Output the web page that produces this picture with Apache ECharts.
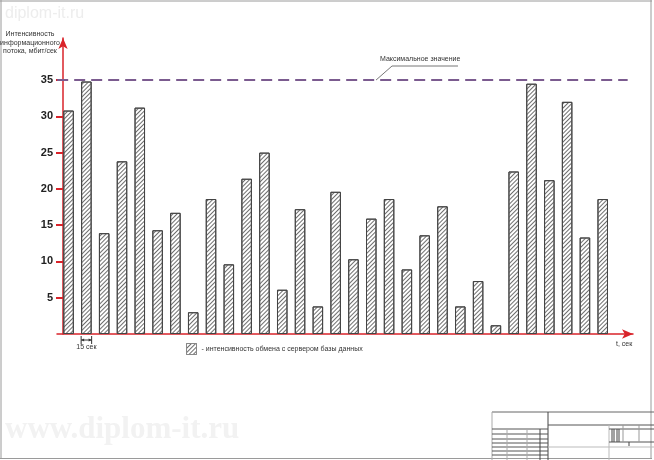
<!DOCTYPE html>
<html><head><meta charset="utf-8">
<script src="https://cdn.jsdelivr.net/npm/echarts@6/dist/echarts.min.js"></script>
<style>html,body{margin:0;padding:0;background:#fff}#c{width:654px;height:460px}</style>
</head><body><div id="c"></div>
<script>
const intervals = [0,1,2,3,4,5,6,7,8,9,10,11,12,13,14,15,16,17,18,19,20,21,22,23,24,25,26,27,28,29,30];
const intensity = [30.8,34.8,13.9,23.8,31.2,14.3,16.7,3.0,18.6,9.6,21.4,25.0,6.1,17.2,3.8,19.6,10.3,15.9,18.6,8.9,13.6,17.6,3.8,7.3,1.2,22.4,34.5,21.2,32.0,13.3,18.6];
const yTicks = [5,10,15,20,25,30,35];
const maxValue = 35;
const seriesName = '- интенсивность обмена с сервером базы данных';
const yName = 'Интенсивность\nинформационного\nпотока, мбит/сек';
const xName = 't, сек';
const maxLabel = 'Максимальное значение';
const stepLabel = '15 сек';

const red = '#d9232a';
const font = 'Liberation Sans, Arial, sans-serif';
const small = 7;
const chart = echarts.init(document.getElementById('c'), null, {renderer: 'canvas'});
const hatch = {symbol: 'rect', dashArrayX: [1, 0], dashArrayY: [1, 2], rotation: -Math.PI / 4, color: '#6e6e6e'};
chart.setOption({
  animation: false,
  textStyle: {fontFamily: font},
  title: {text: yName, left: 30, top: 30, padding: 0, textAlign: 'center',
    textStyle: {fontSize: small, fontWeight: 'normal', color: '#333', lineHeight: 8.6, fontFamily: font}},
  grid: {left: 57, right: 21, top: 38, bottom: 126},
  xAxis: {type: 'value', min: -0.65, max: 31.7,
    axisLine: {show: true, onZero: false, symbol: ['none', 'arrow'], symbolSize: [7, 11], lineStyle: {color: red, width: 1.5}},
    axisTick: {show: false}, axisLabel: {show: false}, splitLine: {show: false},
    name: xName, nameLocation: 'end', nameGap: -17,
    nameTextStyle: {fontSize: small, color: '#333', verticalAlign: 'top', align: 'left', padding: [7, 0, 0, 0], fontFamily: font}},
  yAxis: {type: 'value', min: 0, max: 40.8, interval: 5, offset: -6,
    axisLine: {show: true, onZero: false, symbol: ['none', 'arrow'], symbolSize: [7, 11], lineStyle: {color: red, width: 1.5}},
    axisTick: {show: true, length: 7, customValues: yTicks, lineStyle: {color: red, width: 2}},
    axisLabel: {customValues: yTicks, margin: 10, fontSize: 11, fontWeight: 'bold', color: '#222'},
    splitLine: {show: false}},
  legend: {left: 186, top: 343, itemWidth: 10, itemHeight: 11, icon: 'rect', selectedMode: false,
    padding: 0, data: [seriesName], textStyle: {fontSize: small, color: '#333', fontFamily: font},
    itemStyle: {borderColor: '#888', borderWidth: 1}},
  series: [{
    type: 'bar', name: seriesName, barWidth: 10.5,
    data: intervals.map((t, i) => [t, intensity[i]]),
    itemStyle: {color: '#fff', borderColor: '#444', borderWidth: 1, decal: hatch},
    markLine: {silent: true, symbol: ['none', 'none'], animation: false, label: {show: false},
      lineStyle: {color: '#7b5b8f', width: 2, type: [11, 6]},
      data: [[{coord: [-0.64, maxValue]}, {coord: [31.4, maxValue]}]]}
  }]
});

const py = chart.convertToPixel({gridIndex: 0}, [0, maxValue])[1];
const b = chart.convertToPixel({gridIndex: 0}, [intervals[1], 0]);
const half = 5.25;
const g = [];
function ln(x1, y1, x2, y2, c, w) { g.push({type: 'line', silent: true, shape: {x1, y1, x2, y2}, style: {stroke: c, lineWidth: w || 1}}); }
// drawing frame
ln(1, 0, 1, 459, '#9a9a9a'); ln(0, 1, 652, 1, '#9a9a9a'); ln(651, 0, 651, 459, '#9a9a9a'); ln(0, 458.5, 652, 458.5, '#9a9a9a');
// title block
ln(492, 412, 654, 412, '#666'); ln(492, 412, 492, 460, '#aaa'); ln(548, 412, 548, 460, '#444');
ln(548, 425, 654, 425, '#555');
[429, 434, 439, 443, 447, 451, 455].forEach(y => ln(492, y, 548, y, '#555'));
ln(507, 429, 507, 460, '#aaa'); ln(527, 429, 527, 460, '#aaa'); ln(540, 429, 540, 460, '#444');
ln(548, 447, 654, 447, '#bbb'); ln(609, 425, 609, 460, '#bbb');
ln(609, 429, 654, 429, '#555'); ln(609, 442, 654, 442, '#555');
[612, 614, 617, 619].forEach(x => ln(x, 429, x, 442, '#444'));
ln(623, 425, 623, 442, '#999'); ln(639, 425, 639, 442, '#999'); ln(629, 442, 629, 446, '#444');
// max value annotation
g.push({type: 'polyline', silent: true, shape: {points: [[376, py], [392, 66], [458, 66]]}, style: {stroke: '#777', lineWidth: 1, fill: null}});
g.push({type: 'text', silent: true, x: 380, y: 56, style: {text: maxLabel, fontSize: small, fill: '#333', fontFamily: font}});
// 15 сек marker
const xl = b[0] - half, xr = b[0] + half, ym = 340;
ln(xl, 336, xl, 344, '#333'); ln(xr, 336, xr, 344, '#333'); ln(xl, ym, xr, ym, '#333');
g.push({type: 'polygon', silent: true, shape: {points: [[xl, ym], [xl + 3, ym - 1.5], [xl + 3, ym + 1.5]]}, style: {fill: '#333'}});
g.push({type: 'polygon', silent: true, shape: {points: [[xr, ym], [xr - 3, ym - 1.5], [xr - 3, ym + 1.5]]}, style: {fill: '#333'}});
g.push({type: 'text', silent: true, x: b[0], y: 344, style: {text: stepLabel, fontSize: small, fill: '#333', align: 'center', fontFamily: font}});
// watermarks
g.push({type: 'text', silent: true, x: 5, y: 6, z: -1, style: {text: 'diplom-it.ru', fontSize: 16, fill: '#ededed', fontFamily: font}});
g.push({type: 'text', silent: true, x: 5, y: 414, z: -1, style: {text: 'www.diplom-it.ru', fontSize: 31, fontWeight: 'bold', fill: '#f2f2f2', fontFamily: 'Liberation Serif, serif'}});
chart.setOption({graphic: g});
</script></body></html>
